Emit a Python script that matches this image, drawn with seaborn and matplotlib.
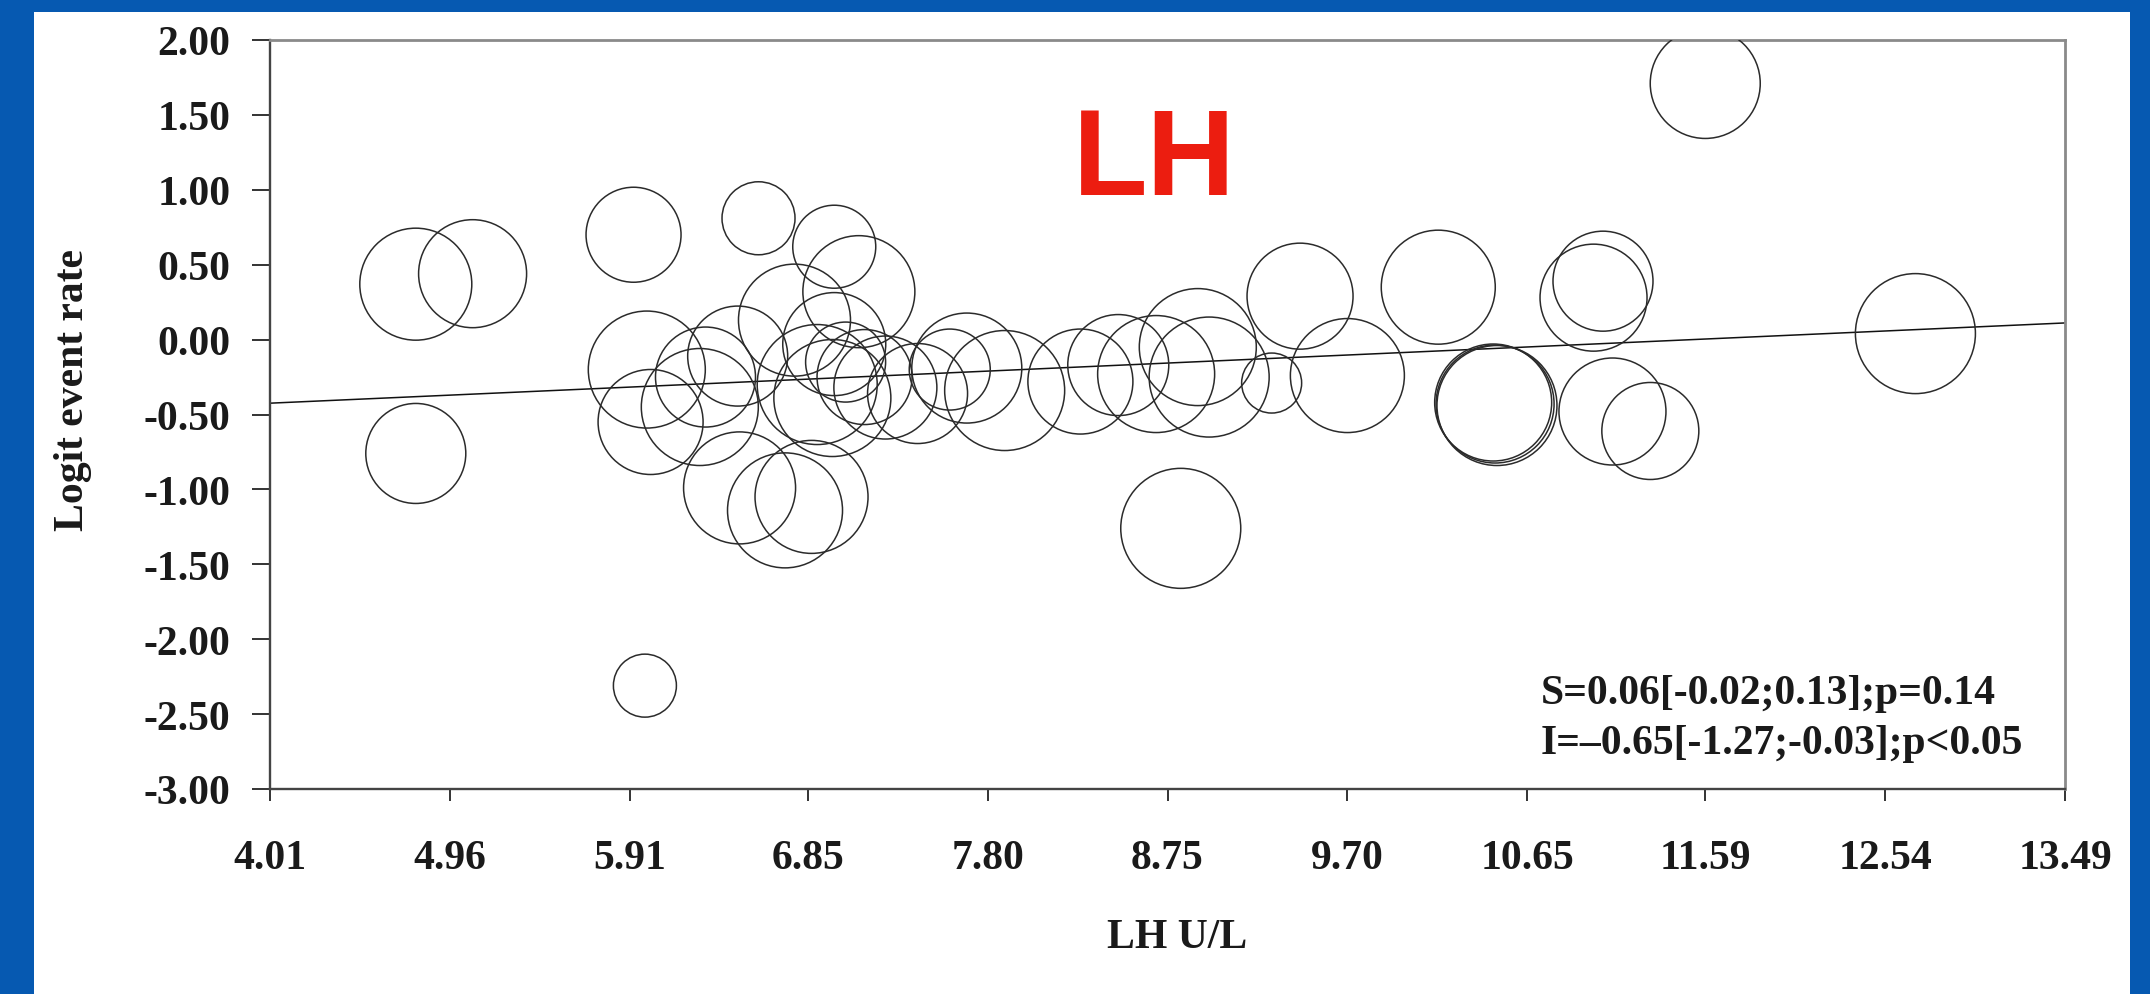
import numpy as np
import pandas as pd
import matplotlib.pyplot as plt
import seaborn as sns
from matplotlib.patches import Rectangle

# one bubble per study: LH (U/L), logit event rate, study weight (bubble diameter)
lh_values = [4.78, 5.08, 4.78, 5.93, 5.99,
             6.59, 6.99, 7.12, 6.78, 6.00, 6.02, 6.48, 6.31, 6.28,
             6.49, 6.73, 6.87, 6.99, 6.90, 6.98, 7.05, 7.15, 7.26, 7.43,
             7.60, 7.69, 7.89, 8.29, 8.49, 8.69, 8.91, 8.97, 8.82,
             9.30, 9.45, 9.70, 10.18, 10.47, 10.49, 10.48,
             11.00, 11.05, 11.10, 11.30, 11.59, 12.70]
logit_rate = [0.37, 0.44, -0.76, 0.70, -2.31,
              0.81, 0.62, 0.32, 0.13, -0.20, -0.55, -0.11, -0.25, -0.45,
              -0.99, -1.14, -1.05, -0.03, -0.30, -0.39, -0.15, -0.25, -0.32, -0.36,
              -0.20, -0.19, -0.34, -0.28, -0.17, -0.23, -0.05, -0.25, -1.26,
              -0.29, 0.29, -0.24, 0.35, -0.42, -0.44, -0.43,
              0.28, 0.39, -0.48, -0.61, 1.71, 0.04]
study_weight = [112, 108, 100, 95, 63,
                73, 83, 112, 112, 117, 105, 100, 100, 117,
                112, 115, 113, 103, 120, 117, 80, 95, 103, 100,
                81, 110, 120, 105, 101, 117, 117, 120, 120,
                60, 106, 114, 114, 117, 120, 118,
                107, 100, 107, 97, 110, 120]

# meta-regression fit
slope = 0.0565
intercept = -0.651

x_ticks = [4.01, 4.96, 5.91, 6.85, 7.80, 8.75, 9.70, 10.65, 11.59, 12.54, 13.49]
y_ticks = [-3.0, -2.5, -2.0, -1.5, -1.0, -0.5, 0.0, 0.5, 1.0, 1.5, 2.0]
stats_text = ["S=0.06[-0.02;0.13];p=0.14", "I=\u20130.65[-1.27;-0.03];p<0.05"]

DPI = 100
W, H = 2150, 995

sns.set_style("ticks")
plt.rcParams['font.family'] = ['Liberation Serif', 'DejaVu Serif']
plt.rcParams['font.weight'] = 'bold'

df = pd.DataFrame({"lh": lh_values, "logit": logit_rate, "weight": study_weight})
df["area"] = (df["weight"] * 72 / DPI) ** 2

fig = plt.figure(figsize=(W / DPI, H / DPI), dpi=DPI, facecolor="#0659b1")
# white slide panel inside the blue frame
fig.patches.append(Rectangle((34 / W, 0), (2130 - 34) / W, (H - 13) / H,
                             transform=fig.transFigure, facecolor="white",
                             edgecolor="none", zorder=-5))

ax = fig.add_axes([270 / W, (H - 790) / H, (2065 - 270) / W, (790 - 41) / H])
ax.set_facecolor("white")

sns.scatterplot(data=df, x="lh", y="logit", size="area",
                sizes=(df["area"].min(), df["area"].max()),
                facecolor="none", edgecolor="#2b2b2b", linewidth=1.1,
                legend=False, ax=ax, zorder=3)

line_x = np.array([x_ticks[0], x_ticks[-1]])
sns.lineplot(x=line_x, y=intercept + slope * line_x, color="#111111",
             linewidth=1.1, ax=ax, zorder=2)

ax.set_xlim(x_ticks[0], x_ticks[-1])
ax.set_ylim(y_ticks[0], y_ticks[-1])
ax.set_xticks(x_ticks)
ax.set_xticklabels([f"{v:.2f}" for v in x_ticks])
ax.set_yticks(y_ticks)
ax.set_yticklabels([f"{v:.2f}" for v in y_ticks])

ax.tick_params(axis="y", length=13, width=1.4, pad=15.5, labelsize=30,
               color="#333333", labelcolor="#1a1a1a")
ax.tick_params(axis="x", length=8.3, width=1.4, pad=27.5, labelsize=30,
               color="#333333", labelcolor="#1a1a1a")

for side in ["left", "bottom"]:
    ax.spines[side].set_color("#444444")
    ax.spines[side].set_linewidth(1.7)
for side in ["top", "right"]:
    ax.spines[side].set_color("#8a8a8a")
    ax.spines[side].set_linewidth(2.0)

ax.set_xlabel("LH U/L", fontsize=30, fontweight="bold", color="#1a1a1a")
ax.set_ylabel("Logit event rate", fontsize=30, fontweight="bold", color="#1a1a1a")
ax.xaxis.set_label_coords(0.5053, -0.1722)
ax.yaxis.set_label_coords(-0.0992, 0.5334)

ax.text(0.7081, 0.1154, stats_text[0], transform=ax.transAxes, fontsize=30,
        fontweight="bold", color="#1a1a1a", ha="left", va="baseline")
ax.text(0.7081, 0.0485, stats_text[1], transform=ax.transAxes, fontsize=30,
        fontweight="bold", color="#1a1a1a", ha="left", va="baseline")

fig.text(1154 / W, (H - 195) / H, "LH", fontsize=88, fontweight="bold",
         color="#ec1d10", ha="center", va="baseline",
         family=["Liberation Sans", "DejaVu Sans"])

fig.savefig("out.png", dpi=DPI, facecolor=fig.get_facecolor())
